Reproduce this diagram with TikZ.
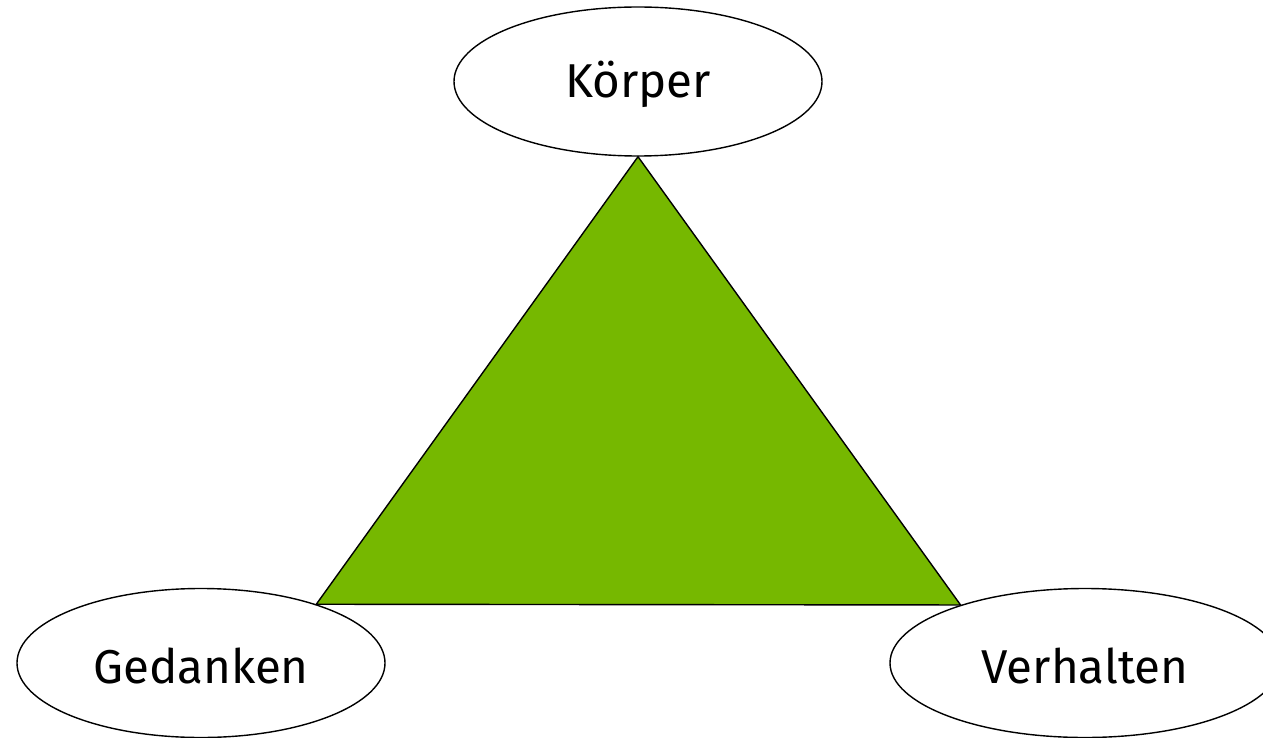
\documentclass[tikz,border=0pt]{standalone}
\usepackage{fontspec}
\setmainfont{Fira Sans}
\usetikzlibrary{shapes.geometric}
\definecolor{leafgreen}{RGB}{118,184,0}
\tikzset{
  corner/.style={ellipse, draw=black, line width=1.4pt, fill=white,
    inner sep=0pt, minimum width=368pt, minimum height=149pt,
    font=\fontsize{47.5}{50}\selectfont},
  wedge/.style={draw=black, line width=1.4pt, fill=leafgreen, line join=miter}
}
\newcommand{\lbl}[1]{\raisebox{-3pt}[\height][\depth]{#1}}
\begin{document}
\begin{tikzpicture}[x=1pt,y=-1pt]
  \useasboundingbox (0,0) rectangle (1263,738);
  \clip (0,0) rectangle (1263,738);
  \node[corner] (k) at (638,81.5) {\lbl{Körper}};
  \node[corner] (g) at (201,663) {\lbl{Gedanken}};
  \node[corner, minimum width=390pt] (v) at (1085,663) {\lbl{Verhalten}};
  \draw[wedge] (k.south) -- (g.27.6) -- (v.155.3) -- cycle;
\end{tikzpicture}
\end{document}
